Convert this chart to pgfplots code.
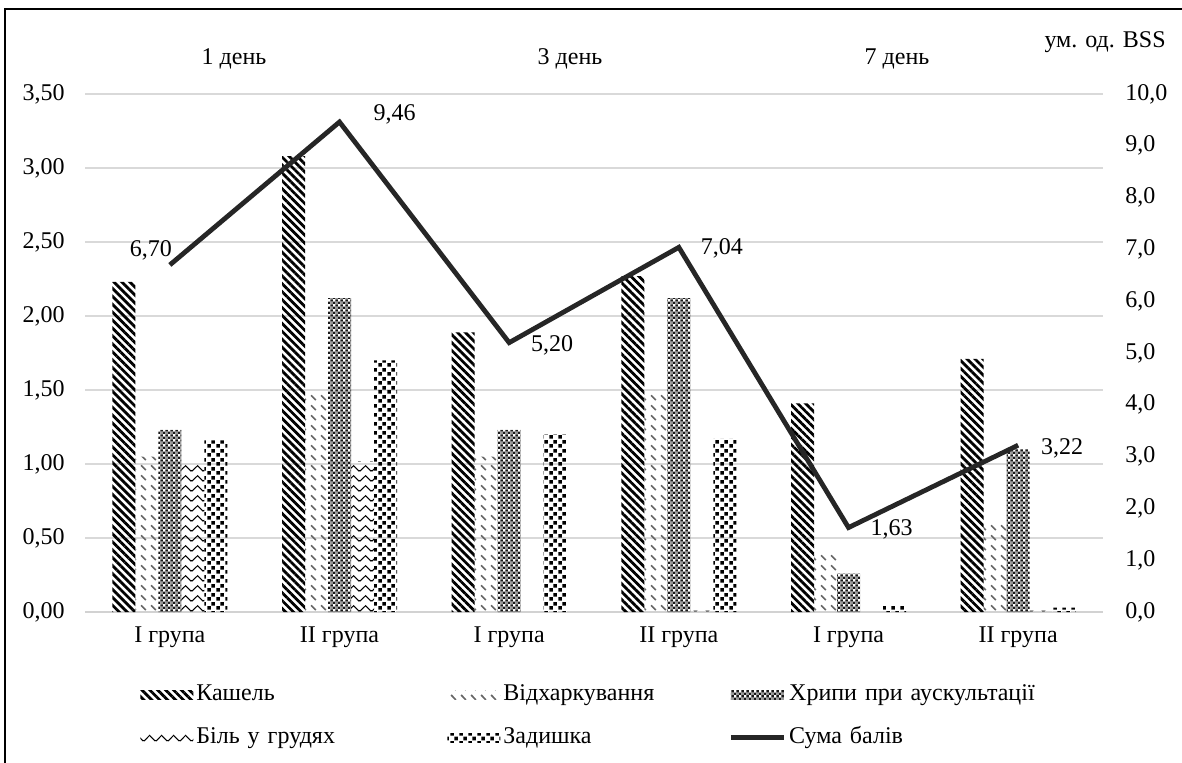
\documentclass[border=0pt]{standalone}
\usepackage{fontspec}
\setmainfont{Liberation Serif}
\usepackage{pgfplots}
\usepackage{pgfplotstable}
\pgfplotsset{compat=1.18}
\usetikzlibrary{patterns.meta}

\tikzdeclarepattern{
  name=expect, type=colored,
  bottom left={(0pt,0pt)}, top right={(5pt,5pt)}, tile size={(5pt,5pt)},
  code={\draw[line width=0.9pt, black!60, line cap=butt] (0.6pt,4.2pt) -- (3.2pt,1.6pt);}
}
\tikzdeclarepattern{
  name=rales, type=colored,
  bottom left={(0pt,0pt)}, top right={(2.4pt,2.4pt)}, tile size={(2.4pt,2.4pt)},
  code={\fill[black!90] (0pt,0pt) rectangle (1.2pt,1.2pt); \fill[black!90] (1.2pt,1.2pt) rectangle (2.4pt,2.4pt); \fill[black!40] (1.2pt,0pt) rectangle (2.4pt,1.2pt);}
}
\tikzdeclarepattern{
  name=pain, type=colored,
  bottom left={(0pt,0pt)}, top right={(6pt,5pt)}, tile size={(6pt,5pt)},
  code={\draw[line width=0.55pt, black] (0pt,1pt) -- (3pt,4pt) -- (6pt,1pt);}
}
\tikzdeclarepattern{
  name=dysp, type=colored,
  bottom left={(0pt,0pt)}, top right={(4.5pt,4.5pt)}, tile size={(4.5pt,4.5pt)},
  code={\fill[black] (0.2pt,0.2pt) rectangle (2.1pt,2.1pt); \fill[black] (2.45pt,2.45pt) rectangle (4.35pt,4.35pt);}
}

\pgfplotstableread{
x cough expect rales pain dysp
0 2.23 1.05 1.23 1.00 1.16
1 3.08 1.48 2.12 1.02 1.70
2 1.89 1.05 1.23 0.00 1.20
3 2.27 1.49 2.12 0.01 1.17
4 1.41 0.41 0.26 0.00 0.04
5 1.71 0.61 1.10 0.01 0.03
}\bardata

\pgfplotstableread{
x y dx dy
0 6.70 -9.5 7.5
1 9.46 27.5 4
2 5.20 21.5 -1.5
3 7.04 21.5 -0.5
4 1.63 21.5 -1
5 3.22 22 -1.5
}\linedata

\pgfplotsset{
  patchlegend/.style={legend image code/.code={\path[##1] (0pt,-2.25pt) rectangle (26.5pt,2.25pt);}},
  linelegend/.style={legend image code/.code={\draw[##1] (0pt,0pt) -- (26.5pt,0pt);}},
}

\begin{document}
\fontsize{12pt}{14pt}\selectfont
\begin{tikzpicture}
\useasboundingbox (0,0) rectangle (591pt,381pt);
\draw[line width=0.9pt] (2.5pt,-20pt) -- (2.5pt,376.5pt) -- (620pt,376.5pt);
\node[anchor=base] at (117pt,348.5pt) {1 день};
\node[anchor=base] at (285pt,348.5pt) {3 день};
\node[anchor=base] at (448.5pt,348.5pt) {7 день};
\node[anchor=base east] at (587pt,357pt) {ум. од. BSS};

\begin{axis}[
  at={(42.5pt,75pt)}, anchor=south west,
  width=509pt, height=259pt, scale only axis,
  xmin=-0.5, xmax=5.5, ymin=0, ymax=3.5,
  ybar=0pt, bar width=11.5pt,
  xtick={0,1,2,3,4,5},
  xticklabels={І група,ІІ група,І група,ІІ група,І група,ІІ група},
  ytick={0,0.5,1,1.5,2,2.5,3,3.5},
  yticklabel={\pgfmathprintnumber[fixed,fixed zerofill,precision=2,use comma,assume math mode=true]{\tick}},
  axis x line*=bottom, axis y line*=left,
  x axis line style={draw=gray!35, line width=0.75pt},
  y axis line style={draw=none},
  major tick length=0pt, tick style={draw=none},
  ymajorgrids, grid style={draw=gray!30, line width=0.75pt},
  xticklabel style={yshift=-3pt},
  yticklabel style={xshift=-6pt},
  legend columns=3,
  legend style={draw=none, fill=none, inner sep=0pt, at={(0.0540,-0.135)}, anchor=north west,
    row sep=9pt,
    nodes={inner xsep=1.5pt, inner ysep=1pt, text height=8pt, text depth=2.5pt, align=left},
    /tikz/every odd column/.append style={column sep=0pt},
    /tikz/every even column/.append style={column sep=0pt}},
  legend cell align=left,
]
\addplot[draw=none, pattern={Lines[angle=-45,distance=2.8pt,line width=1.4pt]}, patchlegend] table[x=x,y=cough]{\bardata};
\addplot[draw=none, pattern=expect, patchlegend] table[x=x,y=expect]{\bardata};
\addplot[draw=none, pattern=rales, patchlegend] table[x=x,y=rales]{\bardata};
\addplot[draw=none, pattern=pain, patchlegend] table[x=x,y=pain]{\bardata};
\addplot[draw=none, pattern=dysp, patchlegend] table[x=x,y=dysp]{\bardata};
\addlegendimage{line width=2.4pt, color=black!85, linelegend}
\addlegendentry[text width=124pt, align=left]{Кашель}
\addlegendentry[text width=111pt, align=left]{Відхаркування}
\addlegendentry[text width=145pt, align=left]{Хрипи при аускультації}
\addlegendentry[text width=124pt, align=left]{Біль у грудях}
\addlegendentry[text width=111pt, align=left]{Задишка}
\addlegendentry[text width=145pt, align=left]{Сума балів}
\end{axis}

\begin{axis}[
  at={(42.5pt,75pt)}, anchor=south west,
  width=509pt, height=259pt, scale only axis,
  xmin=-0.5, xmax=5.5, ymin=0, ymax=10,
  hide x axis,
  axis y line*=right,
  y axis line style={draw=none},
  major tick length=0pt, tick style={draw=none},
  ytick={0,1,2,3,4,5,6,7,8,9,10},
  yticklabel={\pgfmathprintnumber[fixed,fixed zerofill,precision=1,use comma,assume math mode=true]{\tick}},
  yticklabel style={xshift=7pt},
  clip=false,
]
\addplot[line width=2.4pt, color=black!85,
  visualization depends on={\thisrow{dx}\as\dx},
  visualization depends on={\thisrow{dy}\as\dy},
  nodes near coords={\pgfmathprintnumber[fixed,fixed zerofill,precision=2,use comma,assume math mode=true]{\pgfplotspointmeta}},
  point meta=y,
  every node near coord/.append style={anchor=center, xshift=\dx pt, yshift=\dy pt, color=black, font=\fontsize{12pt}{14pt}\selectfont},
] table[x=x,y=y]{\linedata};
\end{axis}
\end{tikzpicture}
\end{document}
